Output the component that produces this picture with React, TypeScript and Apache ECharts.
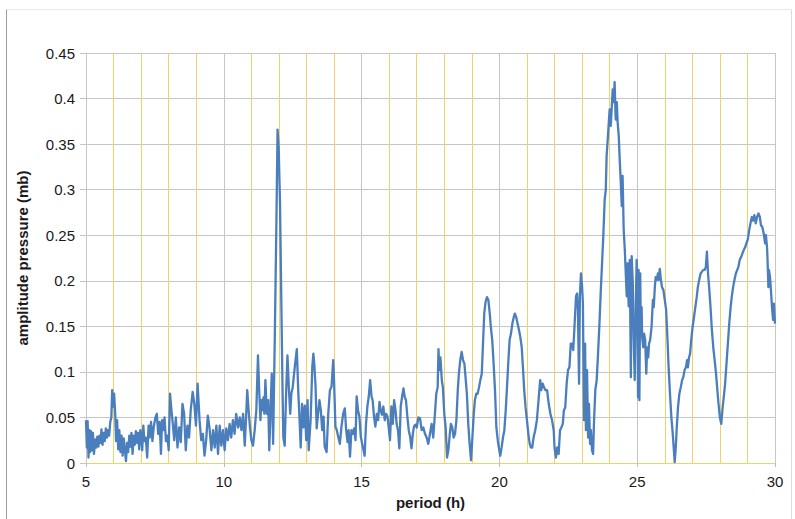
import React, { useEffect, useRef } from "react";
import * as echarts from "echarts";

// period (h), amplitude pressure (mb)
const band5to9: number[][] = [
  [5.0, 0.047], [5.03, 0.017], [5.06, 0.046], [5.09, 0.006], [5.12, 0.036], [5.15, 0.012], [5.18, 0.035], [5.22, 0.014],
  [5.25, 0.033], [5.29, 0.01], [5.33, 0.026], [5.37, 0.017], [5.41, 0.029], [5.45, 0.018], [5.49, 0.03], [5.53, 0.022],
  [5.56, 0.037], [5.6, 0.02], [5.64, 0.033], [5.68, 0.024], [5.72, 0.038], [5.76, 0.028], [5.8, 0.036], [5.84, 0.03],
  [5.88, 0.045], [5.92, 0.05], [5.95, 0.08], [5.99, 0.062], [6.02, 0.076], [6.06, 0.054], [6.09, 0.024], [6.13, 0.047],
  [6.17, 0.015], [6.21, 0.036], [6.25, 0.012], [6.29, 0.03], [6.33, 0.008], [6.37, 0.027], [6.41, 0.015], [6.45, 0.002],
  [6.49, 0.022], [6.53, 0.012], [6.57, 0.03], [6.61, 0.018], [6.65, 0.033], [6.69, 0.01], [6.73, 0.03], [6.77, 0.02],
  [6.81, 0.035], [6.85, 0.022], [6.89, 0.033], [6.93, 0.015], [6.97, 0.036], [7.0, 0.032], [7.04, 0.014], [7.08, 0.041],
  [7.12, 0.024], [7.17, 0.028], [7.22, 0.006], [7.27, 0.041], [7.31, 0.028], [7.36, 0.045], [7.41, 0.024], [7.46, 0.04],
  [7.52, 0.05], [7.57, 0.054], [7.62, 0.032], [7.67, 0.045], [7.72, 0.01], [7.76, 0.047], [7.8, 0.036], [7.85, 0.05],
  [7.9, 0.024], [7.95, 0.03], [8.0, 0.014], [8.05, 0.076], [8.1, 0.058], [8.15, 0.043], [8.2, 0.025], [8.26, 0.05],
  [8.32, 0.017], [8.38, 0.039], [8.44, 0.023], [8.5, 0.065], [8.56, 0.054], [8.62, 0.014], [8.68, 0.041], [8.74, 0.028],
  [8.8, 0.058], [8.87, 0.078], [8.93, 0.065], [8.99, 0.041], [9.05, 0.087],
];

const band9to13: number[][] = [
  [9.12, 0.047], [9.18, 0.025], [9.24, 0.032], [9.3, 0.008], [9.36, 0.025], [9.42, 0.052], [9.48, 0.039], [9.55, 0.014],
  [9.61, 0.036], [9.67, 0.017], [9.73, 0.041], [9.79, 0.01], [9.85, 0.041], [9.91, 0.019], [9.97, 0.036], [10.03, 0.014],
  [10.09, 0.038], [10.15, 0.025], [10.21, 0.043], [10.27, 0.028], [10.33, 0.047], [10.39, 0.032], [10.45, 0.054],
  [10.52, 0.039], [10.58, 0.05], [10.64, 0.036], [10.7, 0.054], [10.76, 0.019], [10.82, 0.058], [10.85, 0.08],
  [10.9, 0.058], [10.95, 0.039], [11.0, 0.025], [11.06, 0.019], [11.12, 0.036], [11.18, 0.058], [11.24, 0.118],
  [11.28, 0.083], [11.33, 0.047], [11.36, 0.069], [11.4, 0.058], [11.44, 0.072], [11.47, 0.054], [11.51, 0.091],
  [11.56, 0.054], [11.61, 0.069], [11.65, 0.014], [11.7, 0.062], [11.74, 0.098], [11.79, 0.021], [11.85, 0.138],
  [11.91, 0.267], [11.95, 0.366], [11.99, 0.347], [12.04, 0.285], [12.09, 0.171], [12.13, 0.083], [12.16, 0.028],
  [12.21, 0.019], [12.26, 0.076], [12.31, 0.118], [12.36, 0.083], [12.41, 0.054], [12.45, 0.076], [12.5, 0.083],
  [12.55, 0.098], [12.6, 0.112], [12.65, 0.125], [12.7, 0.08], [12.75, 0.047], [12.79, 0.017], [12.84, 0.065],
  [12.89, 0.039], [12.94, 0.063], [12.99, 0.025], [13.04, 0.069], [13.08, 0.014], [13.15, 0.047], [13.21, 0.105],
  [13.25, 0.12],
];

const band13to17: number[][] = [
  [13.28, 0.11], [13.33, 0.084], [13.37, 0.038], [13.42, 0.054], [13.47, 0.069], [13.52, 0.058], [13.57, 0.036],
  [13.62, 0.051], [13.66, 0.018], [13.73, 0.012], [13.79, 0.054], [13.85, 0.08], [13.91, 0.084], [13.97, 0.113],
  [14.0, 0.091], [14.05, 0.04], [14.1, 0.036], [14.15, 0.029], [14.21, 0.021], [14.27, 0.04], [14.33, 0.054],
  [14.39, 0.06], [14.44, 0.036], [14.49, 0.023], [14.53, 0.036], [14.58, 0.007], [14.63, 0.036], [14.68, 0.032],
  [14.73, 0.038], [14.78, 0.025], [14.82, 0.073], [14.87, 0.058], [14.92, 0.051], [14.97, 0.029], [15.02, 0.021],
  [15.07, 0.014], [15.11, 0.008], [15.16, 0.043], [15.21, 0.062], [15.26, 0.073], [15.31, 0.091], [15.36, 0.073],
  [15.4, 0.069], [15.45, 0.051], [15.5, 0.04], [15.55, 0.054], [15.6, 0.047], [15.65, 0.067], [15.69, 0.058],
  [15.74, 0.053], [15.79, 0.062], [15.84, 0.047], [15.89, 0.054], [15.94, 0.051], [15.98, 0.04], [16.03, 0.025],
  [16.08, 0.062], [16.13, 0.043], [16.18, 0.069], [16.23, 0.058], [16.27, 0.043], [16.32, 0.036], [16.37, 0.016],
  [16.42, 0.062], [16.47, 0.073], [16.52, 0.082], [16.56, 0.073], [16.61, 0.069], [16.66, 0.051], [16.71, 0.036],
  [16.76, 0.029], [16.81, 0.016], [16.86, 0.032], [16.9, 0.04], [16.95, 0.042],
];

const band17to21: number[][] = [
  [17.0, 0.039], [17.06, 0.05], [17.12, 0.049], [17.18, 0.036], [17.24, 0.039], [17.3, 0.032], [17.36, 0.028],
  [17.42, 0.021], [17.48, 0.032], [17.54, 0.043], [17.6, 0.028], [17.66, 0.054], [17.71, 0.076], [17.76, 0.083],
  [17.79, 0.125], [17.82, 0.102], [17.86, 0.116], [17.91, 0.091], [17.95, 0.083], [18.0, 0.054], [18.05, 0.039],
  [18.1, 0.006], [18.15, 0.014], [18.2, 0.032], [18.24, 0.043], [18.29, 0.039], [18.34, 0.028], [18.39, 0.032],
  [18.44, 0.047], [18.49, 0.08], [18.53, 0.098], [18.58, 0.113], [18.63, 0.122], [18.68, 0.113], [18.73, 0.109],
  [18.78, 0.091], [18.82, 0.076], [18.87, 0.043], [18.92, 0.021], [18.97, 0.003], [19.02, 0.028], [19.07, 0.054],
  [19.11, 0.069], [19.16, 0.076], [19.21, 0.076], [19.26, 0.083], [19.31, 0.091], [19.36, 0.098], [19.4, 0.127],
  [19.45, 0.164], [19.5, 0.177], [19.55, 0.182], [19.6, 0.179], [19.65, 0.164], [19.69, 0.149], [19.74, 0.135],
  [19.79, 0.109], [19.84, 0.08], [19.89, 0.039], [19.94, 0.025], [19.98, 0.017], [20.03, 0.008], [20.08, 0.017],
  [20.13, 0.028], [20.18, 0.036], [20.23, 0.058], [20.27, 0.08], [20.32, 0.109], [20.37, 0.135], [20.42, 0.142],
  [20.47, 0.153], [20.52, 0.16], [20.56, 0.164], [20.61, 0.16], [20.66, 0.153], [20.71, 0.146], [20.76, 0.138],
  [20.81, 0.127], [20.86, 0.102], [20.9, 0.08], [20.95, 0.061], [21.0, 0.047], [21.05, 0.032], [21.1, 0.021],
  [21.14, 0.017], [21.19, 0.017], [21.24, 0.028],
];

const band21to25: number[][] = [
  [21.3, 0.036], [21.36, 0.047], [21.42, 0.069], [21.48, 0.091], [21.52, 0.08], [21.57, 0.087], [21.62, 0.083],
  [21.67, 0.08], [21.73, 0.08], [21.79, 0.065], [21.85, 0.054], [21.91, 0.047], [21.97, 0.036], [22.0, 0.017],
  [22.05, 0.006], [22.1, 0.017], [22.15, 0.01], [22.2, 0.036], [22.25, 0.039], [22.3, 0.043], [22.34, 0.058],
  [22.39, 0.061], [22.44, 0.087], [22.49, 0.102], [22.54, 0.105], [22.59, 0.131], [22.63, 0.131], [22.68, 0.124],
  [22.73, 0.153], [22.78, 0.183], [22.82, 0.186], [22.85, 0.168], [22.89, 0.087], [22.92, 0.183], [22.96, 0.208],
  [23.0, 0.194], [23.03, 0.175], [23.07, 0.047], [23.11, 0.131], [23.14, 0.036], [23.18, 0.102], [23.22, 0.028],
  [23.25, 0.065], [23.29, 0.021], [23.32, 0.036], [23.36, 0.014], [23.4, 0.01], [23.43, 0.043], [23.48, 0.08],
  [23.53, 0.091], [23.58, 0.12], [23.63, 0.153], [23.68, 0.19], [23.72, 0.216], [23.77, 0.249], [23.82, 0.289],
  [23.86, 0.3], [23.89, 0.337], [23.93, 0.355], [23.97, 0.374], [24.0, 0.388], [24.04, 0.37], [24.08, 0.392],
  [24.11, 0.41], [24.15, 0.396], [24.18, 0.418], [24.22, 0.377], [24.26, 0.396], [24.29, 0.374], [24.33, 0.359],
  [24.37, 0.33], [24.4, 0.311], [24.44, 0.282], [24.47, 0.315], [24.51, 0.256], [24.55, 0.234], [24.58, 0.212],
  [24.62, 0.183], [24.65, 0.219], [24.69, 0.172], [24.73, 0.223], [24.77, 0.094], [24.8, 0.227], [24.84, 0.197],
  [24.87, 0.139], [24.91, 0.091], [24.95, 0.175], [24.98, 0.223],
];

const band25to30: number[][] = [
  [25.01, 0.179], [25.03, 0.072], [25.05, 0.212], [25.08, 0.069], [25.11, 0.208], [25.13, 0.149], [25.16, 0.171],
  [25.18, 0.138], [25.22, 0.127], [25.25, 0.142], [25.29, 0.135], [25.33, 0.098], [25.36, 0.127], [25.4, 0.116],
  [25.43, 0.131], [25.47, 0.135], [25.52, 0.149], [25.57, 0.179], [25.6, 0.171], [25.64, 0.193], [25.67, 0.204],
  [25.71, 0.201], [25.75, 0.208], [25.78, 0.201], [25.82, 0.213], [25.86, 0.201], [25.9, 0.193], [25.95, 0.19],
  [26.0, 0.179], [26.05, 0.168], [26.1, 0.135], [26.14, 0.105], [26.19, 0.076], [26.24, 0.05], [26.29, 0.032],
  [26.34, 0.01], [26.36, 0.001], [26.4, 0.017], [26.43, 0.036], [26.48, 0.061], [26.53, 0.076], [26.58, 0.083],
  [26.63, 0.091], [26.67, 0.094], [26.72, 0.102], [26.77, 0.105], [26.81, 0.113], [26.84, 0.105], [26.88, 0.116],
  [26.92, 0.12], [26.96, 0.135], [27.01, 0.149], [27.06, 0.16], [27.11, 0.171], [27.16, 0.182], [27.2, 0.193],
  [27.25, 0.201], [27.3, 0.208], [27.35, 0.21], [27.4, 0.212], [27.45, 0.212], [27.49, 0.215], [27.53, 0.232],
  [27.57, 0.208], [27.61, 0.193], [27.66, 0.171], [27.71, 0.146], [27.76, 0.127], [27.81, 0.113], [27.86, 0.098],
  [27.9, 0.083], [27.95, 0.065], [28.0, 0.05], [28.05, 0.043], [28.1, 0.061], [28.14, 0.072], [28.19, 0.087],
  [28.24, 0.109], [28.29, 0.131], [28.34, 0.153], [28.39, 0.171], [28.43, 0.182], [28.48, 0.193], [28.53, 0.201],
  [28.58, 0.208], [28.63, 0.212], [28.67, 0.215], [28.72, 0.223], [28.77, 0.226], [28.82, 0.23], [28.87, 0.234],
  [28.92, 0.237], [28.96, 0.241], [29.01, 0.245], [29.06, 0.255], [29.11, 0.263], [29.16, 0.27], [29.2, 0.266],
  [29.25, 0.272], [29.3, 0.263], [29.35, 0.27], [29.4, 0.274], [29.45, 0.27], [29.49, 0.261], [29.54, 0.259],
  [29.59, 0.252], [29.64, 0.241], [29.67, 0.25], [29.71, 0.237], [29.73, 0.223], [29.76, 0.193], [29.78, 0.212],
  [29.82, 0.204], [29.86, 0.186], [29.89, 0.171], [29.93, 0.157], [29.96, 0.175], [30.0, 0.153],
];

const xTitle = "period (h)";
const yTitle = "amplitude pressure (mb)";

const FONT = "'Liberation Sans', Arial, Helvetica, sans-serif";
const YELLOW = "#f3d169";
const GRAY = "#c6c6c6";

export default function App() {
  const ref = useRef<HTMLDivElement>(null);
  useEffect(() => {
    if (!ref.current) return;
    const chart = echarts.init(ref.current, null, { renderer: "svg" });
    const data = [...band5to9, ...band9to13, ...band13to17, ...band17to21, ...band21to25, ...band25to30];
    chart.setOption({
      animation: false,
      backgroundColor: "#ffffff",
      grid: { left: 86, right: 20, top: 53, bottom: 56 },
      graphic: [
        { type: "line", shape: { x1: 6.5, y1: 9.5, x2: 6.5, y2: 519 }, style: { stroke: "#9c9c9c", lineWidth: 1 } },
        { type: "line", shape: { x1: 6.5, y1: 9.5, x2: 791.5, y2: 9.5 }, style: { stroke: "#e8e8e8", lineWidth: 1 } },
        { type: "line", shape: { x1: 791.5, y1: 9.5, x2: 791.5, y2: 519 }, style: { stroke: "#dcdcdc", lineWidth: 1 } },
      ],
      xAxis: {
        type: "value",
        min: 5,
        max: 30,
        interval: 5,
        name: xTitle,
        nameLocation: "middle",
        nameGap: 32,
        nameTextStyle: { fontFamily: FONT, fontSize: 15, color: "#1a1a1a", fontWeight: "bold" },
        axisLine: { show: true, lineStyle: { color: YELLOW, width: 1 } },
        axisTick: { show: true, length: 4, lineStyle: { color: "#bdbdbd" } },
        axisLabel: { fontFamily: FONT, fontSize: 15, color: "#1a1a1a", margin: 11 },
        splitLine: { show: true, lineStyle: { color: GRAY, width: 1 } },
        minorTick: { show: false, splitNumber: 5 },
        minorSplitLine: { show: true, lineStyle: { color: YELLOW, width: 1 } },
      },
      yAxis: {
        type: "value",
        min: 0,
        max: 0.45,
        interval: 0.05,
        name: yTitle,
        nameLocation: "middle",
        nameGap: 56,
        nameTextStyle: { fontFamily: FONT, fontSize: 15, color: "#1a1a1a", fontWeight: "bold" },
        axisLine: { show: true, lineStyle: { color: GRAY, width: 1 } },
        axisTick: { show: true, length: 6, lineStyle: { color: GRAY } },
        axisLabel: { fontFamily: FONT, fontSize: 15, color: "#1a1a1a", margin: 11 },
        splitLine: { show: true, showMinLine: false, lineStyle: { color: GRAY, width: 1 } },
      },
      series: [
        {
          type: "line",
          data,
          showSymbol: false,
          smooth: false,
          lineStyle: { color: "#4a7ebd", width: 2.3, join: "round" },
          itemStyle: { color: "#4a7ebd" },
          z: 5,
        },
      ],
    });
    return () => chart.dispose();
  }, []);
  return (
    <div
      ref={ref}
      style={{ position: "fixed", left: 0, top: 0, width: 795, height: 519, background: "#fff" }}
    />
  );
}
